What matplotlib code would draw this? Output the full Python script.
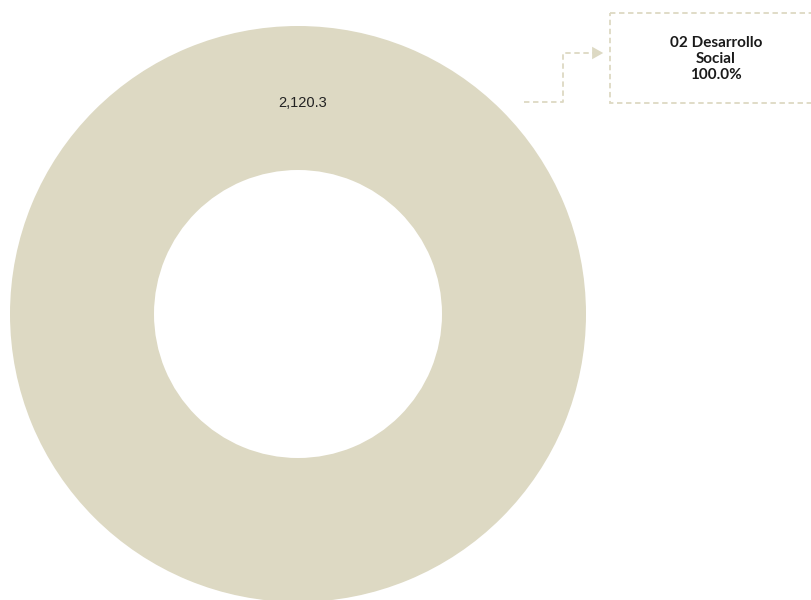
import matplotlib.pyplot as plt
from matplotlib.patches import Rectangle

# datos
categorias = ['02 Desarrollo Social']
valores = [2120.3]
color_beige = '#DDD9C3'

total = sum(valores)

fig = plt.figure(figsize=(8.12, 6.0), dpi=100)
ax = fig.add_axes([0, 0, 1, 1])

# dona
ax.pie(valores, colors=[color_beige], startangle=90, counterclock=False,
       center=(298, 314), radius=288,
       wedgeprops=dict(width=144, edgecolor='none'))

ax.set_xlim(0, 812)
ax.set_ylim(600, 0)
ax.set_aspect('equal')
ax.axis('off')

# etiqueta del valor
ax.text(303, 103, f'{valores[0]:,.1f}', ha='center', va='center',
        fontsize=10.5, family=['Liberation Sans', 'DejaVu Sans'], color='#222222')

# conector punteado
ax.plot([524, 563, 563, 598], [102, 102, 53, 53], color=color_beige,
        lw=1.3, ls=(0, (3, 2)))
ax.annotate('', xy=(606, 53), xytext=(596, 53),
            arrowprops=dict(arrowstyle='-|>,head_length=0.8,head_width=0.45',
                            color=color_beige, lw=0))

# caja de la etiqueta
caja = Rectangle((610, 13), 220, 90, fill=False, edgecolor=color_beige,
                 lw=1.3, ls=(0, (3, 2)))
ax.add_patch(caja)
pct = valores[0] / total * 100
ax.text(716, 59, f'{categorias[0].replace(" Social", "")}\nSocial\n{pct:.1f}%',
        ha='center', va='center',
        fontsize=11, fontweight='bold', family=['Lato', 'DejaVu Sans'],
        color='#1a1a1a', linespacing=1.15)

fig.savefig('out.png', dpi=100)
